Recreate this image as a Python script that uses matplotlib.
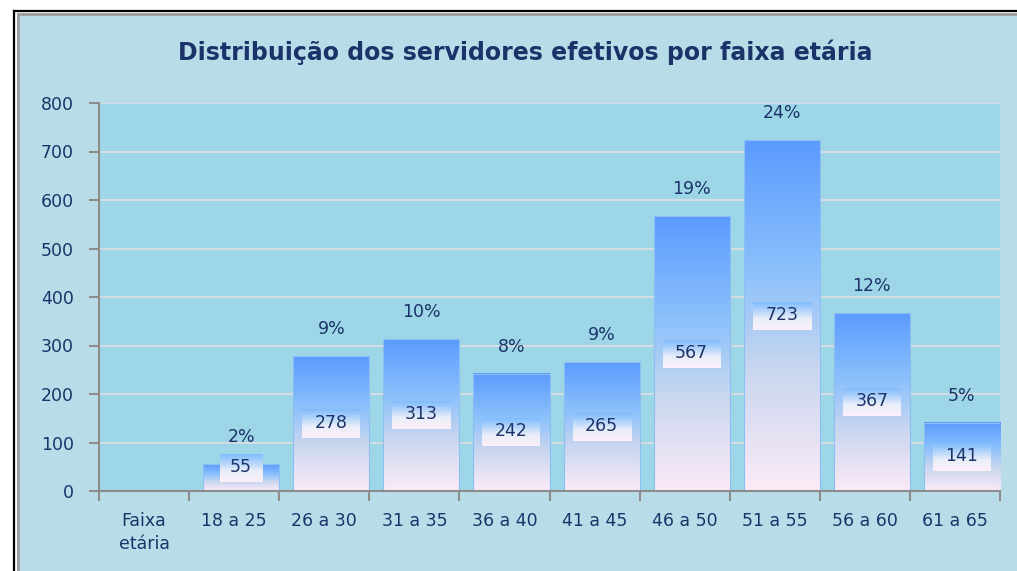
import numpy as np
import matplotlib

matplotlib.use("Agg")
import matplotlib.pyplot as plt
from matplotlib.colors import LinearSegmentedColormap
from matplotlib.lines import Line2D
from matplotlib.patches import Rectangle

# dados do gráfico
categories = ["Faixa\netária", "18 a 25", "26 a 30", "31 a 35", "36 a 40",
              "41 a 45", "46 a 50", "51 a 55", "56 a 60", "61 a 65"]
counts = [55, 278, 313, 242, 265, 567, 723, 367, 141]
percents = [2, 9, 10, 8, 9, 19, 24, 12, 5]
y_ticks = [0, 100, 200, 300, 400, 500, 600, 700, 800]

TITLE = "Distribuição dos servidores efetivos por faixa etária"
NAVY = "#1c3369"
PANEL = "#b8dde8"
PLOT_BG = "#9cd6e7"

W, H = 1017, 571
fig = plt.figure(figsize=(W / 100, H / 100), dpi=100)
fig.patch.set_facecolor("white")

# painel e moldura
fig.patches.append(Rectangle((20 / W, 0), 1, 1 - 16 / H, transform=fig.transFigure,
                             facecolor=PANEL, edgecolor="none", zorder=-5))
fig.lines.append(Line2D([14 / W, 1], [1 - 10.5 / H] * 2, transform=fig.transFigure, color="black", lw=1.6, zorder=-4))
fig.lines.append(Line2D([14 / W] * 2, [0, 1 - 10.5 / H], transform=fig.transFigure, color="black", lw=1.6, zorder=-4))
fig.lines.append(Line2D([18 / W, 1], [1 - 14 / H] * 2, transform=fig.transFigure, color="#9a9a9a", lw=2, zorder=-4))
fig.lines.append(Line2D([18 / W] * 2, [0, 1 - 14 / H], transform=fig.transFigure, color="#9a9a9a", lw=2, zorder=-4))

fig.text(525 / W, 1 - 52 / H, TITLE, ha="center", va="center", fontsize=17,
         fontweight="bold", color=NAVY)

ax = fig.add_axes([99 / W, 1 - 491 / H, (1000 - 99) / W, (491 - 103) / H])
ax.set_facecolor(PLOT_BG)

bar_cmap = LinearSegmentedColormap.from_list(
    "bar", [(0, "#fcebf7"), (0.35, "#c8d6ef"), (0.62, "#8cc1fb"), (1, "#5b9bff")])
box_cmap = LinearSegmentedColormap.from_list(
    "box", [(0, "#fdf0f9"), (0.4, "#eaeef9"), (0.75, "#a9d0fb"), (1, "#7fbcfd")])
grad = np.linspace(0, 1, 256).reshape(-1, 1)

bar_w = 0.844
x_pos = np.arange(1, len(categories)) + 0.078
px_per_val = (491 - 103) / 800
px_per_cat = (1000 - 99) / len(categories)

for x, v, p in zip(x_pos, counts, percents):
    ax.imshow(grad, cmap=bar_cmap, origin="lower", aspect="auto",
              extent=(x - bar_w / 2, x + bar_w / 2, 0, v), zorder=2)
    ax.add_patch(Rectangle((x - bar_w / 2, 0), bar_w, v, facecolor="none",
                           edgecolor="#8cbff3", lw=0.8, zorder=3))
    # caixa do rótulo de valor
    label = str(v)
    box_w = (len(label) * 15 + 13) / px_per_cat
    box_h = 28 / px_per_val
    ly = max(v / 2, 47)
    ax.imshow(grad, cmap=box_cmap, origin="lower", aspect="auto",
              extent=(x - box_w / 2, x + box_w / 2, ly - box_h / 2, ly + box_h / 2), zorder=4)
    ax.text(x, ly + 2, label, ha="center", va="center", fontsize=12.5, color=NAVY, zorder=5)
    ax.annotate(f"{p}%", (x, v), xytext=(0, 19.5), textcoords="offset points",
                ha="center", va="center", fontsize=12.5, color=NAVY, zorder=5)

ax.set_xlim(-0.5, len(categories) - 0.5)
ax.set_ylim(0, 800)
ax.set_yticks(y_ticks)
ax.set_yticklabels([str(t) for t in y_ticks])
ax.set_xticks(np.arange(-0.5, len(categories)))
ax.set_xticklabels([])
ax.set_xticks(np.arange(len(categories)), categories, minor=True)

ax.set_axisbelow(True)
ax.grid(True, axis="y", color="#d4dce3", lw=1.5)
ax.grid(False, axis="x")

for side in ["top", "right"]:
    ax.spines[side].set_visible(False)
for side in ["left", "bottom"]:
    ax.spines[side].set_color("#8c8c8c")
    ax.spines[side].set_linewidth(1.5)
    ax.spines[side].set_zorder(6)

ax.tick_params(axis="y", which="major", length=7, width=1.5, color="#8c8c8c",
               labelsize=12.5, labelcolor=NAVY, pad=11)
ax.tick_params(axis="x", which="major", length=7, width=1.5, color="#8c8c8c")
ax.tick_params(axis="x", which="minor", length=0, labelsize=12.5, labelcolor=NAVY, pad=15)
for lbl in ax.get_xticklabels(minor=True):
    lbl.set_linespacing(1.4)

fig.savefig("out.png", dpi=100)
